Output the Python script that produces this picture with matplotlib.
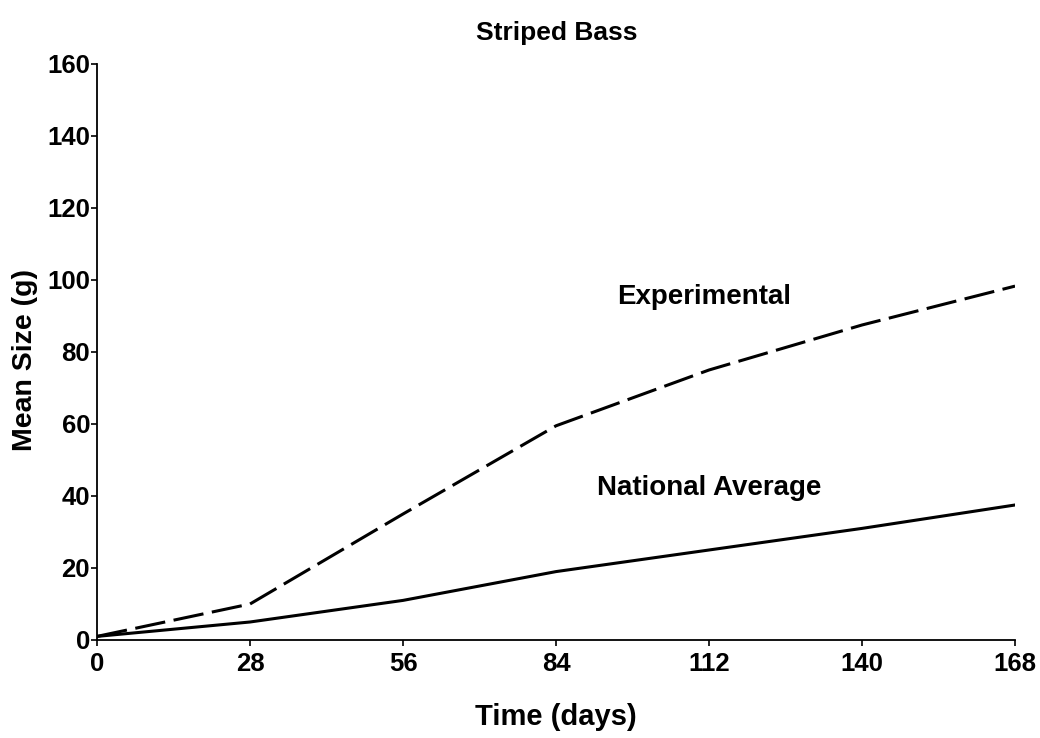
import matplotlib
matplotlib.use("Agg")
import matplotlib.pyplot as plt

days = [0, 28, 56, 84, 112, 140, 168]
experimental = [1, 10, 35, 59.5, 75, 87.5, 98.3]
national = [1, 5, 11, 19, 25, 31, 37.5]
x_ticks = [0, 28, 56, 84, 112, 140, 168]
y_ticks = [0, 20, 40, 60, 80, 100, 120, 140, 160]

plt.rcParams['font.family'] = ['Liberation Sans', 'DejaVu Sans']
plt.rcParams['font.weight'] = 'bold'

fig = plt.figure(figsize=(10.4, 7.38), dpi=100)
ax = fig.add_axes([0.0933, 0.1328, 0.8827, 0.7805])

ax.plot(days, experimental, color='black', lw=2.2, linestyle=(0, (10, 2.8)), solid_capstyle='butt')
ax.plot(days, national, color='black', lw=2.2)

ax.set_xlim(0, 168)
ax.set_ylim(0, 160)
ax.set_xticks(x_ticks)
ax.set_yticks(y_ticks)
ax.tick_params(direction='out', length=4, width=1.2, labelsize=18.5)
ax.tick_params(axis='y', pad=1)
ax.tick_params(axis='x', pad=5)
for lab in ax.get_xticklabels() + ax.get_yticklabels():
    lab.set_fontweight('bold')
ax.spines['top'].set_visible(False)
ax.spines['right'].set_visible(False)
ax.spines['left'].set_linewidth(1.3)
ax.spines['bottom'].set_linewidth(1.3)

ax.set_xlabel('Time (days)', fontsize=21, fontweight='bold')
ax.xaxis.set_label_coords(0.5, -0.110)
ax.set_ylabel('Mean Size (g)', fontsize=20.5, fontweight='bold')
ax.yaxis.set_label_coords(-0.064, 0.486)
fig.text(0.535, 0.955, 'Striped Bass', ha='center', va='center', fontsize=19, fontweight='bold')

ax.text(95.2, 95.3, 'Experimental', fontsize=20, fontweight='bold', va='center', ha='left')
ax.text(91.5, 42.2, 'National Average', fontsize=20, fontweight='bold', va='center', ha='left')

fig.savefig('out.png', dpi=100)
